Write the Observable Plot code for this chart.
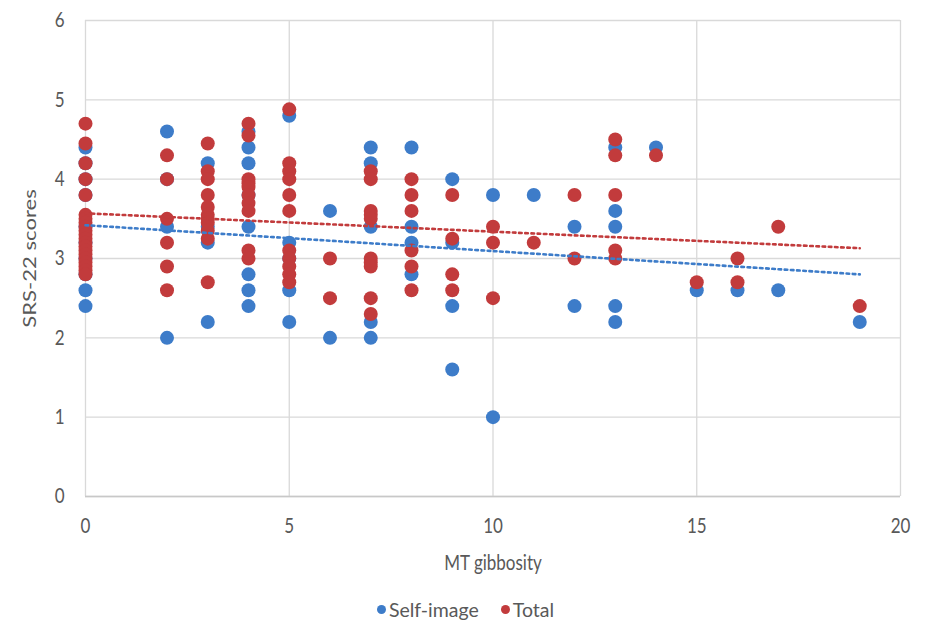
<!DOCTYPE html>
<html>
<head>
<meta charset="utf-8">
<script src="https://cdn.jsdelivr.net/npm/d3@7"></script>
<script src="https://cdn.jsdelivr.net/npm/@observablehq/plot@0.6"></script>
<style>
  html, body { margin: 0; padding: 0; background: #fff; }
  #chart { width: 925px; }
  .legend { display: flex; justify-content: center; align-items: center; gap: 22px;
    font-family: Lato, "Open Sans", sans-serif; font-size: 19.5px; color: #595959; height: 34px; padding-left: 6px; }
  .legend span.item { display: inline-flex; align-items: center; gap: 3px; }
  .legend i { display: inline-block; width: 9px; height: 9px; border-radius: 50%; }
</style>
</head>
<body>
<div id="chart"></div>
<script>
// ---- data ----
const selfGibbosity = [
  0,0,0,0,0,0,0,0,0,0,
  2,2,2,2,
  3,3,3,3,
  4,4,4,4,4,4,4,4,
  5,5,5,5,5,
  6,6,
  7,7,7,7,7,
  8,8,8,8,
  9,9,9,9,
  10,10,
  11,
  12,12,
  13,13,13,13,13,
  14,15,16,17,19
];
const selfScore = [
  4.4,4.2,4.0,3.8,3.4,3.2,3.0,2.8,2.6,2.4,
  4.6,4.0,3.4,2.0,
  4.2,3.4,3.2,2.2,
  4.6,4.4,4.2,3.8,3.4,2.8,2.6,2.4,
  4.8,3.2,3.0,2.6,2.2,
  3.6,2.0,
  4.4,4.2,3.4,2.2,2.0,
  4.4,3.4,3.2,2.8,
  4.0,3.2,2.4,1.6,
  3.8,1.0,
  3.8,
  3.4,2.4,
  4.4,3.6,3.4,2.4,2.2,
  4.4,2.6,2.6,2.6,2.2
];
const totalGibbosity = [
  0,0,0,0,0,0,0,0,0,0,0,0,0,0,0,0,0,0,0,0,0,
  2,2,2,2,2,2,
  3,3,3,3,3,3,3,3,3,3,3,
  4,4,4,4,4,4,4,4,4,4,
  5,5,5,5,5,5,5,5,5,5,5,
  6,6,
  7,7,7,7,7,7,7,7,7,7,
  8,8,8,8,8,8,
  9,9,9,9,
  10,10,10,
  11,
  12,12,
  13,13,13,13,13,
  14,15,16,16,17,19
];
const totalScore = [
  4.7,4.45,4.2,4.0,3.8,3.55,3.5,3.45,3.4,3.35,3.3,3.25,3.2,3.15,3.1,3.05,3.0,2.95,2.9,2.85,2.8,
  4.3,4.0,3.5,3.2,2.9,2.6,
  4.45,4.1,4.0,3.8,3.65,3.55,3.5,3.45,3.35,3.25,2.7,
  4.7,4.55,4.0,3.95,3.9,3.8,3.7,3.6,3.1,3.0,
  4.88,4.2,4.1,4.0,3.8,3.6,3.1,3.0,2.9,2.8,2.7,
  3.0,2.5,
  4.1,4.0,3.6,3.55,3.5,3.0,2.95,2.9,2.5,2.3,
  4.0,3.8,3.6,3.1,2.9,2.6,
  3.8,3.25,2.8,2.6,
  3.4,3.2,2.5,
  3.2,
  3.8,3.0,
  4.5,4.3,3.8,3.1,3.0,
  4.3,2.7,3.0,2.7,3.4,2.4
];
// trend lines (endpoints at x = 0 and x = 19)
const trendX = [0, 19];
const selfTrend = [3.42, 2.80];
const totalTrend = [3.57, 3.13];

const xTicks = [0, 5, 10, 15, 20];
const yTicks = [0, 1, 2, 3, 4, 5, 6];

const BLUE = "#3d7cc9";
const RED = "#c23b3c";

const selfData = selfGibbosity.map((x, i) => ({x, y: selfScore[i]}));
const totalData = totalGibbosity.map((x, i) => ({x, y: totalScore[i]}));
const selfTrendData = trendX.map((x, i) => ({x, y: selfTrend[i]}));
const totalTrendData = trendX.map((x, i) => ({x, y: totalTrend[i]}));

const chart = Plot.plot({
  width: 925,
  height: 592,
  marginLeft: 85,
  marginRight: 25,
  marginTop: 20,
  marginBottom: 96,
  style: {fontFamily: "Lato, 'Open Sans', sans-serif", fontSize: "17px", color: "#595959", background: "#fff"},
  x: {domain: [0, 20]},
  y: {domain: [0, 6]},
  marks: [
    Plot.gridX(xTicks, {stroke: "#d9d9d9", strokeOpacity: 1, strokeWidth: 1.3}),
    Plot.gridY(yTicks, {stroke: "#d9d9d9", strokeOpacity: 1, strokeWidth: 1.3}),
    Plot.ruleY([0], {stroke: "#c8c8c8", strokeWidth: 1.3}),
    Plot.axisX(xTicks, {tickSize: 0, tickPadding: 21, tickFormat: d => String(d), label: "MT gibbosity", labelAnchor: "center", labelArrow: "none", labelOffset: 73, fill: "#595959"}),
    Plot.axisY(yTicks, {tickSize: 0, tickPadding: 21, tickFormat: d => String(d), label: "SRS-22 scores", labelAnchor: "center", labelArrow: "none", labelOffset: 62, fill: "#595959"}),
    Plot.dot(selfData, {x: "x", y: "y", r: 7, fill: BLUE, stroke: "none"}),
    Plot.dot(totalData, {x: "x", y: "y", r: 7, fill: RED, stroke: "none"}),
    Plot.line(totalTrendData, {x: "x", y: "y", stroke: RED, strokeWidth: 2.6, strokeDasharray: "2.6,3.6"}),
    Plot.line(selfTrendData, {x: "x", y: "y", stroke: BLUE, strokeWidth: 2.6, strokeDasharray: "2.6,3.6"})
  ]
});

// the reference's lettering is stretched vertically; mimic that
function stretch(sel, sx, sy) {
  chart.querySelectorAll(sel).forEach(t => {
    const tr = t.getAttribute("transform") || "";
    t.setAttribute("transform", `${tr} scale(${sx},${sy})`);
  });
}
stretch('g[aria-label="x-axis tick label"] text', 1, 1.25);
stretch('g[aria-label="y-axis tick label"] text', 1, 1.25);
stretch('g[aria-label="x-axis label"] text', 1, 1.25);
stretch('g[aria-label="y-axis label"] text', 1.3, 1);

document.getElementById("chart").appendChild(chart);

const legend = document.createElement("div");
legend.className = "legend";
legend.innerHTML = `<span class="item"><i style="background:${BLUE}"></i>Self-image</span><span class="item"><i style="background:${RED}"></i>Total</span>`;
document.getElementById("chart").appendChild(legend);
</script>
</body>
</html>
